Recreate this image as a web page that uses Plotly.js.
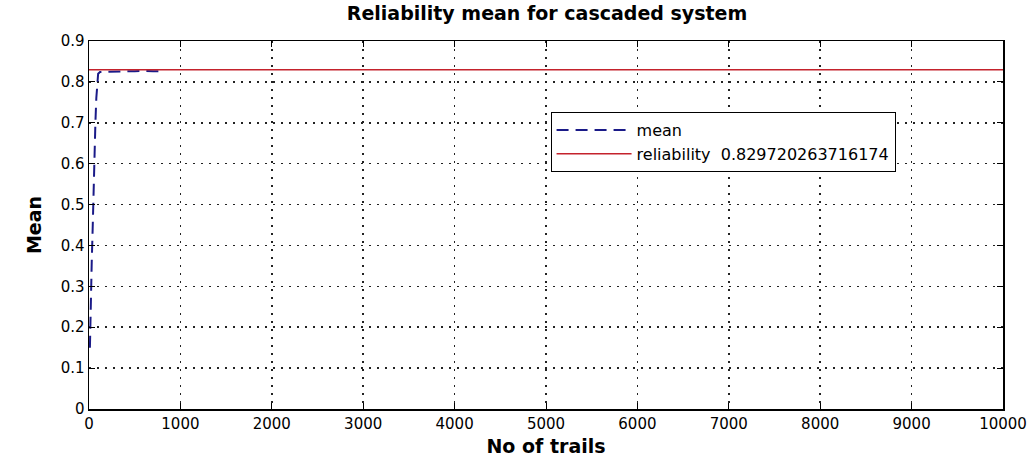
<!DOCTYPE html>
<html>
<head>
<meta charset="utf-8">
<script src="https://cdn.plot.ly/plotly-3.0.1.min.js"></script>
<style>html,body{margin:0;padding:0;background:#fff;}#chart{width:1036px;height:459px;}</style>
</head>
<body>
<div id="chart"></div>
<script>
// Data
const trials = [10, 15, 20, 30, 40, 50, 60, 70, 80, 90, 100, 120, 200, 300, 400, 500, 600, 700, 800];
const meanValues = [0.15, 0.22, 0.28, 0.36, 0.44, 0.55, 0.62, 0.70, 0.76, 0.80, 0.82, 0.824, 0.825, 0.826, 0.826, 0.826, 0.827, 0.826, 0.826];
const reliabilityValue = 0.829720263716174;
const reliabilityX = [0, 10000];
const reliabilityY = [reliabilityValue, reliabilityValue];
const xTicks = [0, 1000, 2000, 3000, 4000, 5000, 6000, 7000, 8000, 9000, 10000];
const yTicks = [0, 0.1, 0.2, 0.3, 0.4, 0.5, 0.6, 0.7, 0.8, 0.9];

const traces = [
  {
    x: trials, y: meanValues, mode: 'lines', name: 'mean',
    line: {color: '#1a1a88', width: 2, dash: '12px,7px'}
  },
  {
    x: reliabilityX, y: reliabilityY, mode: 'lines',
    name: 'reliability  ' + String(reliabilityValue),
    line: {color: '#c4222c', width: 1.5}
  }
];

const fam = 'DejaVu Sans, Verdana, sans-serif';
const axisFont = {family: fam, size: 15, color: '#000'};
const layout = {
  width: 1036, height: 459,
  margin: {l: 89, r: 33, t: 41, b: 50},
  paper_bgcolor: '#fff', plot_bgcolor: '#fff',
  title: {text: '<b>Reliability mean for cascaded system</b>', x: 0.528, xanchor: 'center', y: 0.985, yanchor: 'top',
    font: {family: fam, size: 19, color: '#000'}},
  xaxis: {
    range: [0, 10000], tickvals: xTicks, tickformat: 'd',
    ticks: 'inside', ticklen: 6, tickcolor: '#000',
    showline: true, linecolor: '#000', linewidth: 1.5, mirror: 'ticks',
    showgrid: true, gridcolor: '#222', griddash: '2px,6px', gridwidth: 1.5,
    zeroline: false, tickfont: axisFont,
    title: {text: '<b>No of trails</b>', standoff: 8, font: {family: fam, size: 19, color: '#000'}}
  },
  yaxis: {
    range: [0, 0.9], tickvals: yTicks,
    ticks: 'inside', ticklen: 6, tickcolor: '#000',
    showline: true, linecolor: '#000', linewidth: 1.5, mirror: 'ticks',
    showgrid: true, gridcolor: '#222', griddash: '2px,6px', gridwidth: 1.5,
    zeroline: false, tickfont: axisFont,
    title: {text: '<b>Mean</b>', standoff: 14, font: {family: fam, size: 19, color: '#000'}}
  },
  showlegend: true,
  legend: {
    x: 0.505, y: 0.807, xanchor: 'left', yanchor: 'top',
    bgcolor: '#fff', bordercolor: '#000', borderwidth: 1,
    font: {family: fam, size: 16, color: '#000'},
    itemwidth: 75,
    tracegroupgap: 0
  }
};

Plotly.newPlot('chart', traces, layout, {displayModeBar: false, staticPlot: true});
</script>
</body>
</html>
